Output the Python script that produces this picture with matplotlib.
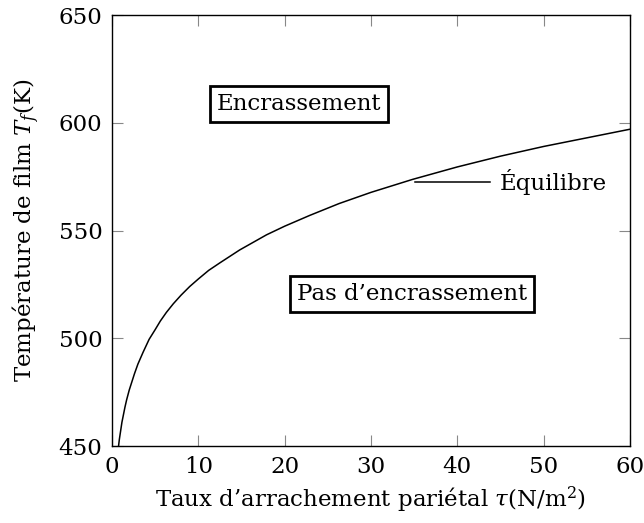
import matplotlib
matplotlib.use("Agg")
import matplotlib.pyplot as plt

plt.rcParams['font.family'] = ['DejaVu Serif']
plt.rcParams['mathtext.fontset'] = 'dejavuserif'

# Data (tau in N/m^2, T_f in K)
tau = [0.76, 0.85, 1.0, 1.15, 1.3, 1.5, 1.7, 2.0, 2.2, 2.6, 3.0, 3.6,
       4.3, 5.0, 5.6, 6.3, 7.1, 8.0, 9.0, 10.0, 11.2, 12.5, 14.8, 17.9,
       20.0, 22.9, 26.3, 30.0, 34.8, 40.0, 45.0, 50.0, 55.0, 60.0]
T_f = [450, 453, 457, 461, 464, 468, 471.5, 476, 478.5, 483.5, 488, 493.5,
       499.5, 504, 508, 512, 516, 520, 524, 527.5, 531.5, 535, 541, 548,
       552, 557, 562.5, 567.7, 573.7, 579.5, 584.5, 589, 593, 597]
series_label = "Équilibre"
xticks = [0, 10, 20, 30, 40, 50, 60]
yticks = [450, 500, 550, 600, 650]

FS = 16.5

fig = plt.figure(figsize=(6.44, 5.23), dpi=100)
ax = fig.add_axes([0.1739, 0.1472, 0.8043, 0.8241])

ax.plot(tau, T_f, color='black', lw=1.1, label=series_label)

ax.set_xlim(0, 60)
ax.set_ylim(450, 650)
ax.set_xticks(xticks)
ax.set_yticks(yticks)
ax.tick_params(direction='in', length=8, width=0.8, color='#888888',
               top=True, right=True, labelsize=FS, pad=7)
for s in ax.spines.values():
    s.set_linewidth(1.0)
    s.set_color('black')

ax.set_xlabel(r"Taux d’arrachement pariétal $\tau$(N/m$^2$)", fontsize=FS, labelpad=5)
ax.set_ylabel(r"Température de film $T_f$(K)", fontsize=FS, labelpad=12)

box = dict(boxstyle='square,pad=0.3', facecolor='white', edgecolor='black', linewidth=2)
ax.text(21.7, 608.6, "Encrassement", ha='center', va='center', fontsize=FS, bbox=box)
ax.text(34.8, 520.5, "Pas d’encrassement", ha='center', va='center', fontsize=FS, bbox=box)

leg = ax.legend(loc='center left', bbox_to_anchor=(0.585, 0.613), frameon=False,
                fontsize=FS, handlelength=3.27, handletextpad=0.44, borderpad=0,
                borderaxespad=0)

fig.savefig("out.png", dpi=100)
